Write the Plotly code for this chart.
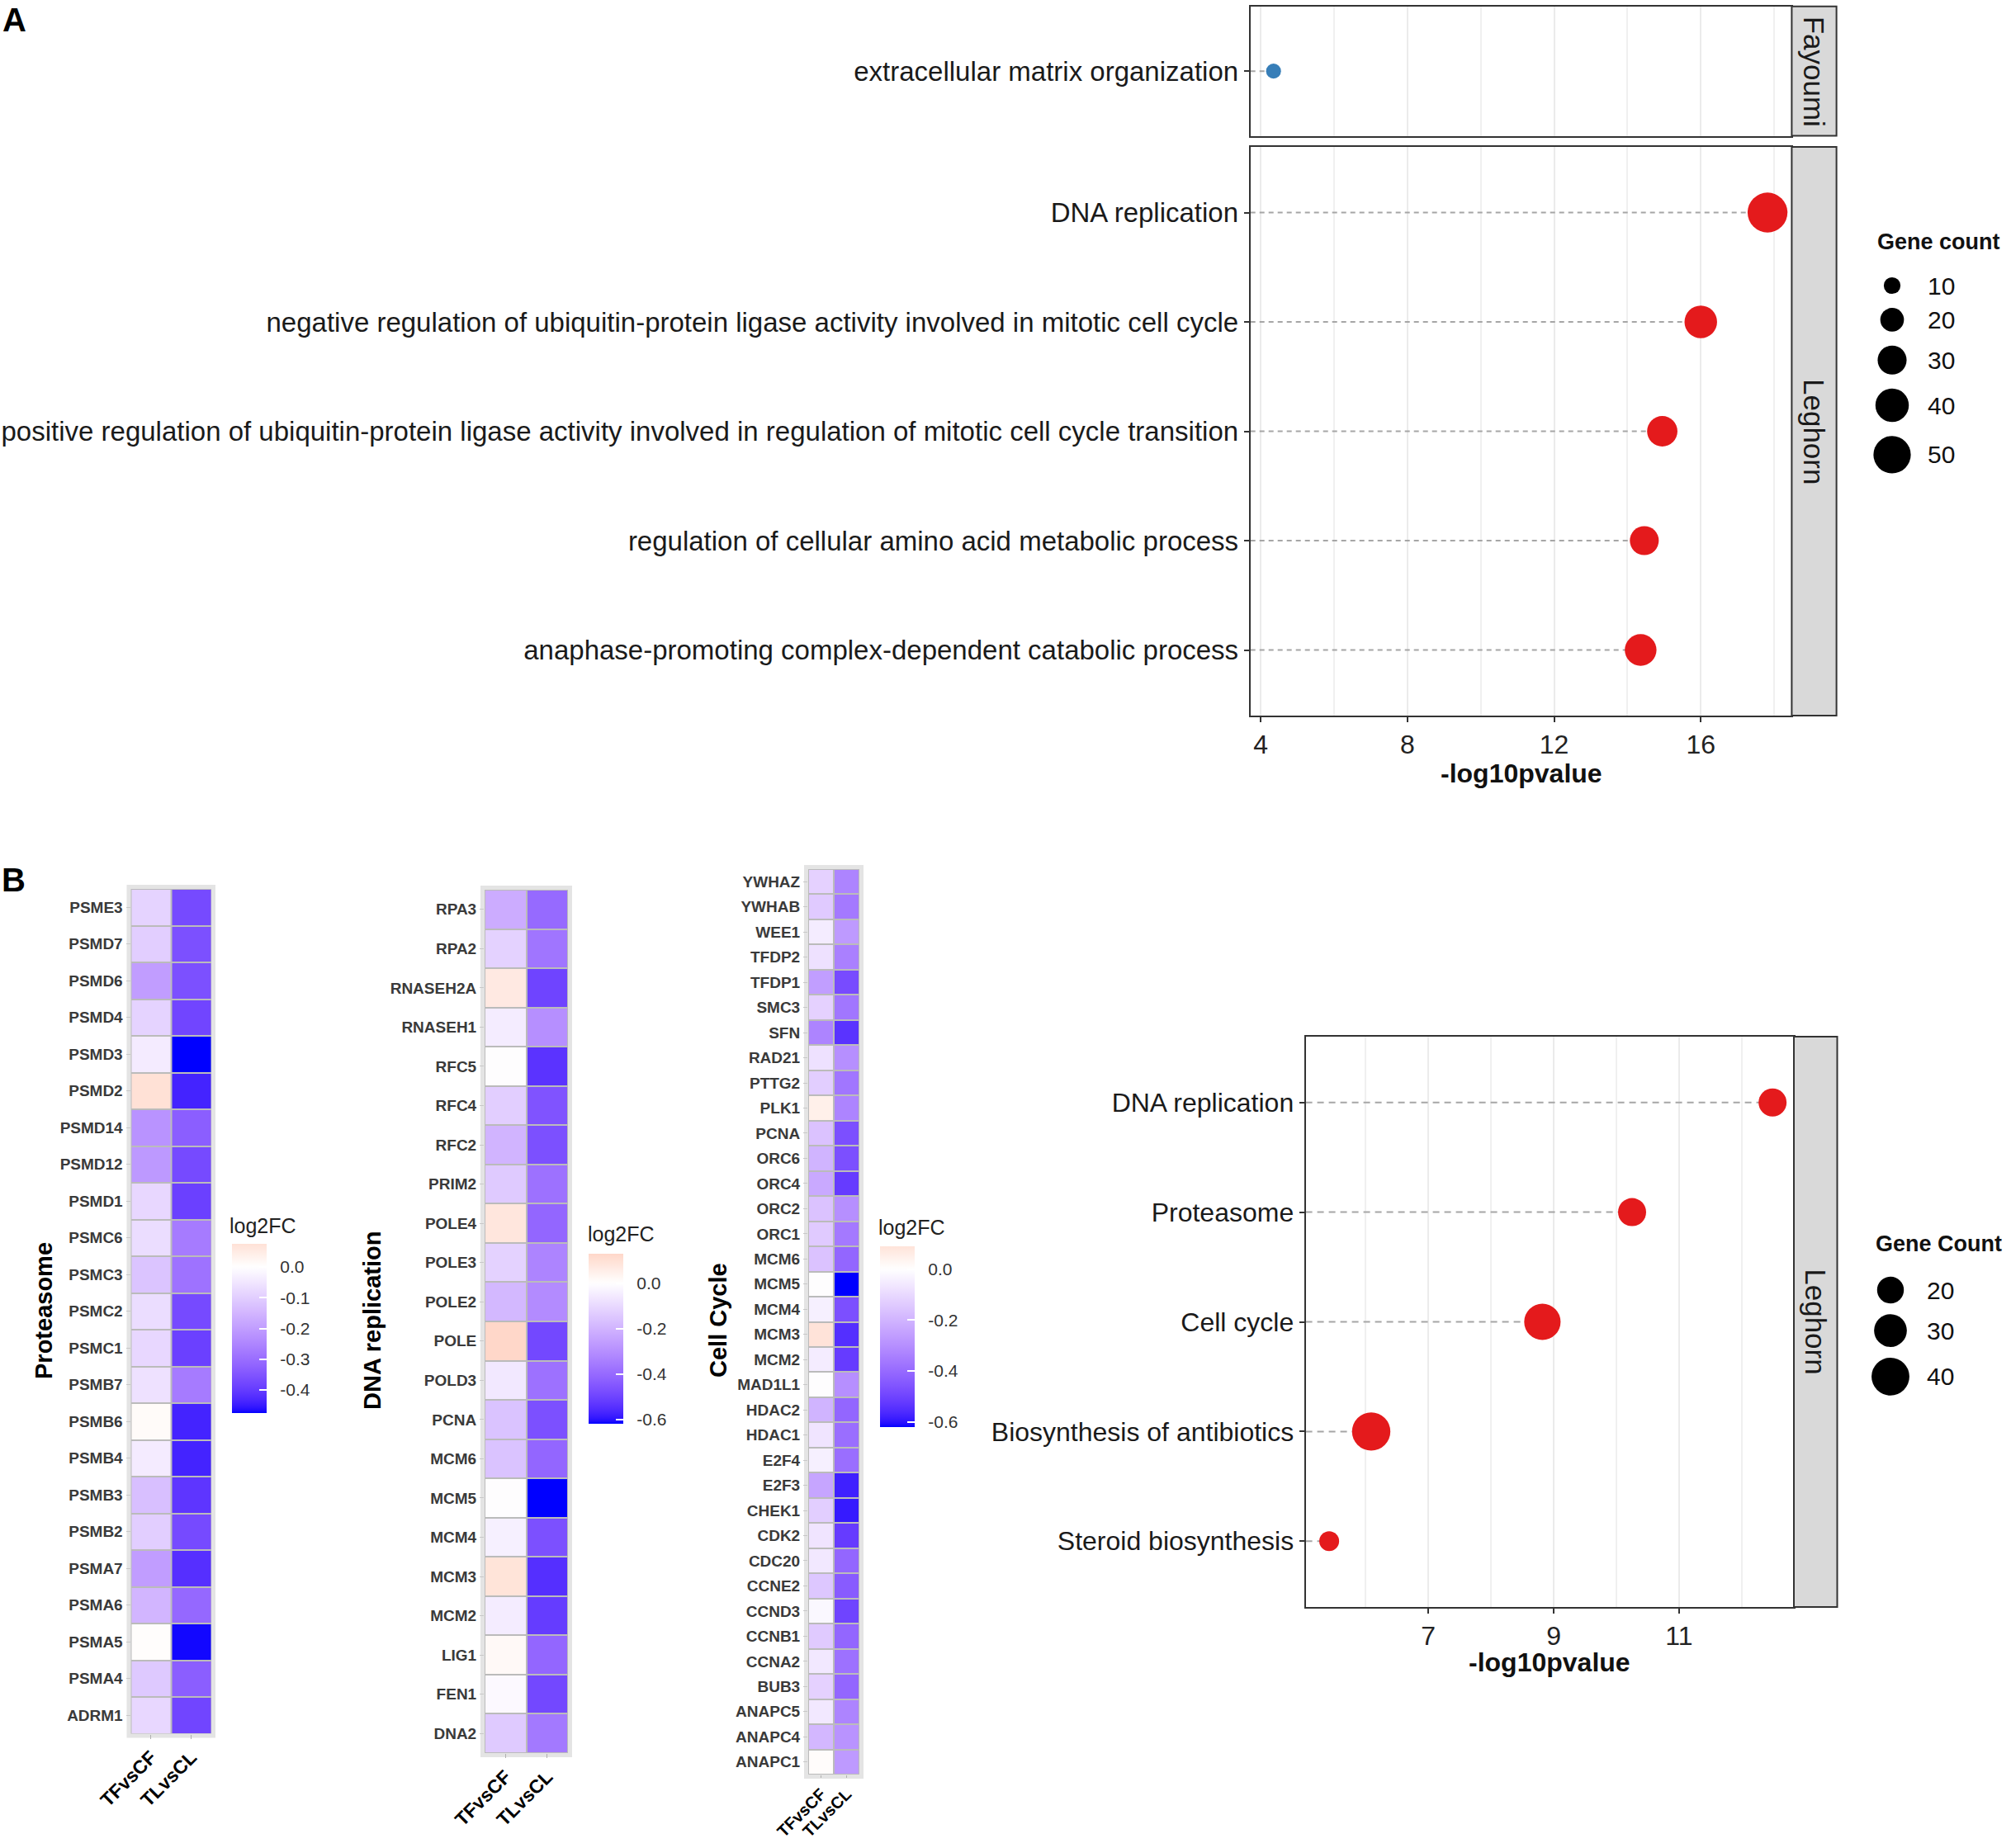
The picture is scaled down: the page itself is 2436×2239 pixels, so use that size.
import numpy as np
import plotly.graph_objects as go

W, H = 2436, 2239
FONT = "Liberation Sans, Arial, Helvetica, sans-serif"

# ------------------------------------------------------------------ data
# Panel A (GO terms)
a_fay_terms = ["extracellular matrix organization"]
a_fay_logp = [4.35]
a_fay_count = [8]

a_leg_terms = [
    "DNA replication",
    "negative regulation of ubiquitin-protein ligase activity involved in mitotic cell cycle",
    "positive regulation of ubiquitin-protein ligase activity involved in regulation of mitotic cell cycle transition",
    "regulation of cellular amino acid metabolic process",
    "anaphase-promoting complex-dependent catabolic process",
]
a_leg_logp = [17.82, 16.0, 14.95, 14.46, 14.36]
a_leg_count = [57, 38, 33, 30, 36]
a_xticks = [4, 8, 12, 16]
a_xminor = [6, 10, 14, 18]
a_legend_counts = [10, 20, 30, 40, 50]

# Panel B (KEGG)
b_terms = ["DNA replication", "Proteasome", "Cell cycle",
           "Biosynthesis of antibiotics", "Steroid biosynthesis"]
b_logp = [12.49, 10.25, 8.82, 6.09, 5.42]
b_count = [22, 22, 37, 41, 11]
b_xticks = [7, 9, 11]
b_xminor = [6, 8, 10, 12]
b_legend_counts = [20, 30, 40]

comparisons = ["TFvsCF", "TLvsCL"]

# Heatmap 1: Proteasome (top -> bottom)
prot_genes = ["PSME3", "PSMD7", "PSMD6", "PSMD4", "PSMD3", "PSMD2", "PSMD14", "PSMD12",
              "PSMD1", "PSMC6", "PSMC3", "PSMC2", "PSMC1", "PSMB7", "PSMB6", "PSMB4",
              "PSMB3", "PSMB2", "PSMA7", "PSMA6", "PSMA5", "PSMA4", "ADRM1"]
prot_tf = [-0.09, -0.10, -0.20, -0.09, -0.04, 0.075, -0.22, -0.21, -0.08, -0.07, -0.12,
           -0.07, -0.08, -0.06, 0.01, -0.04, -0.13, -0.10, -0.20, -0.15, 0.005, -0.11, -0.08]
prot_tl = [-0.37, -0.36, -0.36, -0.38, -0.475, -0.44, -0.33, -0.37, -0.39, -0.27, -0.29,
           -0.37, -0.39, -0.27, -0.44, -0.44, -0.41, -0.37, -0.42, -0.31, -0.47, -0.33, -0.38]
prot_ticks = [0.0, -0.1, -0.2, -0.3, -0.4]
prot_ticktext = ["0.0", "-0.1", "-0.2", "-0.3", "-0.4"]

# Heatmap 2: DNA replication
dna_genes = ["RPA3", "RPA2", "RNASEH2A", "RNASEH1", "RFC5", "RFC4", "RFC2", "PRIM2",
             "POLE4", "POLE3", "POLE2", "POLE", "POLD3", "PCNA", "MCM6", "MCM5", "MCM4",
             "MCM3", "MCM2", "LIG1", "FEN1", "DNA2"]
dna_tf = [-0.22, -0.12, 0.07, -0.05, 0.0, -0.13, -0.20, -0.14, 0.08, -0.12, -0.19, 0.13,
          -0.06, -0.16, -0.16, 0.0, -0.04, 0.09, -0.05, 0.02, -0.015, -0.14]
dna_tl = [-0.40, -0.37, -0.50, -0.30, -0.54, -0.46, -0.47, -0.38, -0.41, -0.33, -0.31,
          -0.49, -0.38, -0.47, -0.41, -0.62, -0.47, -0.55, -0.52, -0.41, -0.49, -0.36]
dna_ticks = [0.0, -0.2, -0.4, -0.6]
dna_ticktext = ["0.0", "-0.2", "-0.4", "-0.6"]

# Heatmap 3: Cell Cycle
cc_genes = ["YWHAZ", "YWHAB", "WEE1", "TFDP2", "TFDP1", "SMC3", "SFN", "RAD21", "PTTG2",
            "PLK1", "PCNA", "ORC6", "ORC4", "ORC2", "ORC1", "MCM6", "MCM5", "MCM4", "MCM3",
            "MCM2", "MAD1L1", "HDAC2", "HDAC1", "E2F4", "E2F3", "CHEK1", "CDK2", "CDC20",
            "CCNE2", "CCND3", "CCNB1", "CCNA2", "BUB3", "ANAPC5", "ANAPC4", "ANAPC1"]
cc_tf = [-0.12, -0.14, -0.05, -0.08, -0.26, -0.12, -0.33, -0.08, -0.13, 0.05, -0.16,
         -0.20, -0.23, -0.16, -0.14, -0.16, 0.0, -0.04, 0.09, -0.05, 0.0, -0.20, -0.07,
         -0.04, -0.24, -0.13, -0.07, -0.06, -0.15, -0.02, -0.14, -0.06, -0.12, -0.06,
         -0.19, 0.01]
cc_tl = [-0.33, -0.36, -0.27, -0.34, -0.48, -0.37, -0.54, -0.30, -0.37, -0.33, -0.47,
         -0.47, -0.52, -0.30, -0.36, -0.41, -0.62, -0.47, -0.55, -0.52, -0.30, -0.41,
         -0.39, -0.39, -0.58, -0.59, -0.52, -0.41, -0.44, -0.50, -0.41, -0.38, -0.41,
         -0.33, -0.29, -0.27]
cc_ticks = [0.0, -0.2, -0.4, -0.6]
cc_ticktext = ["0.0", "-0.2", "-0.4", "-0.6"]


# ------------------------------------------------------------------ helpers
def px_x(p):
    return p / W


def px_y(p):
    return 1 - p / H


_M = np.array([[0.4124564, 0.3575761, 0.1804375],
               [0.2126729, 0.7151522, 0.0721750],
               [0.0193339, 0.1191920, 0.9503041]])
_WP = np.array([0.95047, 1.0, 1.08883])


def rgb2lab(rgb):
    c = np.array(rgb, float) / 255.0
    lin = np.where(c <= 0.04045, c / 12.92, ((c + 0.055) / 1.055) ** 2.4)
    t = (_M @ lin) / _WP
    d = 6 / 29
    f = np.where(t > d ** 3, np.cbrt(t), t / (3 * d * d) + 4 / 29)
    return np.array([116 * f[1] - 16, 500 * (f[0] - f[1]), 200 * (f[1] - f[2])])


def lab2rgb(lab):
    L, a, b = lab
    fy = (L + 16) / 116
    f = np.array([fy + a / 500, fy, fy - b / 200])
    d = 6 / 29
    t = np.where(f > d, f ** 3, 3 * d * d * (f - 4 / 29))
    lin = np.linalg.inv(_M) @ (t * _WP)
    lin = np.clip(lin, 0, 1)
    c = np.where(lin <= 0.0031308, 12.92 * lin, 1.055 * lin ** (1 / 2.4) - 0.055)
    c = np.round(np.clip(c, 0, 1) * 255).astype(int)
    return "rgb(%d,%d,%d)" % tuple(c)


LAB_LOW = rgb2lab((0, 0, 255))
LAB_MID = rgb2lab((255, 255, 255))
LAB_HIGH = rgb2lab((255, 0, 0))


def div_scale(zmin, zmax, n=61):
    m = max(abs(zmin), abs(zmax))
    scale = []
    for p in np.linspace(0, 1, n):
        v = zmin + p * (zmax - zmin)
        f = v / m
        if f < 0:
            lab = LAB_MID + (LAB_LOW - LAB_MID) * (-f)
        else:
            lab = LAB_MID + (LAB_HIGH - LAB_MID) * f
        scale.append([float(p), lab2rgb(lab)])
    return scale


fig = go.Figure()
fig.update_layout(template="none")

AX_LINE = dict(showline=True, mirror=True, linecolor="#333333", linewidth=2, zeroline=False,
               automargin=False)
GRID = dict(showgrid=True, gridcolor="#EBEBEB", gridwidth=2)
shapes = []
annotations = []


def note(text, x, y, size, color="#111111", xanchor="center", yanchor="middle", angle=0,
         xref="paper", yref="paper"):
    if xref == "paper":
        x, y = px_x(x), px_y(y)
    annotations.append(dict(text=text, xref=xref, yref=yref, x=x, y=y, xanchor=xanchor,
                            yanchor=yanchor, textangle=angle, showarrow=False,
                            font=dict(size=size, color=color, family=FONT)))


# ------------------------------------------------------------------ Panel A
SREF_A = 2 / 6.4 ** 2
A_XR = [3.72, 18.48]


def seg_xy(vals, cats, x0):
    xs, ys = [], []
    for v, c in zip(vals, cats):
        xs += [x0, v, None]
        ys += [c, c, None]
    return xs, ys


sx, sy = seg_xy(a_fay_logp, a_fay_terms, A_XR[0])
fig.add_trace(go.Scatter(x=sx, y=sy, mode="lines", xaxis="x", yaxis="y",
                         line=dict(color="#A6A6A6", width=2, dash="6px,5px"), hoverinfo="skip"))
fig.add_trace(go.Scatter(x=a_fay_logp, y=a_fay_terms, mode="markers", xaxis="x", yaxis="y",
                         marker=dict(color="#377EB8", size=a_fay_count, sizemode="area",
                                     sizeref=SREF_A, opacity=1, line=dict(width=0))))
sx, sy = seg_xy(a_leg_logp, a_leg_terms, A_XR[0])
fig.add_trace(go.Scatter(x=sx, y=sy, mode="lines", xaxis="x2", yaxis="y2",
                         line=dict(color="#A6A6A6", width=2, dash="6px,5px"), hoverinfo="skip"))
fig.add_trace(go.Scatter(x=a_leg_logp, y=a_leg_terms, mode="markers", xaxis="x2", yaxis="y2",
                         marker=dict(color="#E41A1C", size=a_leg_count, sizemode="area",
                                     sizeref=SREF_A, opacity=1, line=dict(width=0))))

A_X0, A_X1 = 1514.7, 2170.4
fig.update_layout(
    xaxis=dict(domain=[px_x(A_X0), px_x(A_X1)], range=A_XR, anchor="y", tickvals=a_xticks,
               showticklabels=False, ticks="", **GRID,
               minor=dict(tickvals=a_xminor, showgrid=True, gridcolor="#F0F0F0", gridwidth=1.5),
               **AX_LINE),
    yaxis=dict(domain=[px_y(164.5), px_y(7.8)], anchor="x", type="category",
               categoryorder="array", categoryarray=a_fay_terms[::-1],
               range=[-0.6, len(a_fay_terms) - 0.4], showgrid=False, ticks="outside",
               ticklen=6, tickwidth=2, tickcolor="#333333",
               tickfont=dict(size=33, color="#1A1A1A", family=FONT), **AX_LINE),
    xaxis2=dict(domain=[px_x(A_X0), px_x(A_X1)], range=A_XR, anchor="y2", tickvals=a_xticks,
                ticks="outside", ticklen=6, tickwidth=2, tickcolor="#333333",
                tickfont=dict(size=32, color="#222222", family=FONT), **GRID,
                minor=dict(tickvals=a_xminor, showgrid=True, gridcolor="#F0F0F0", gridwidth=1.5),
                **AX_LINE),
    yaxis2=dict(domain=[px_y(867), px_y(178)], anchor="x2", type="category",
                categoryorder="array", categoryarray=a_leg_terms[::-1],
                range=[-0.6, len(a_leg_terms) - 0.4], showgrid=False, ticks="outside",
                ticklen=6, tickwidth=2, tickcolor="#333333",
                tickfont=dict(size=33, color="#1A1A1A", family=FONT), **AX_LINE),
)


def strip(x0, x1, y0, y1, label):
    shapes.append(dict(type="rect", xref="paper", yref="paper", x0=px_x(x0), x1=px_x(x1),
                       y0=px_y(y1), y1=px_y(y0), fillcolor="#D9D9D9",
                       line=dict(color="#333333", width=2), layer="above"))
    note(label, (x0 + x1) / 2, (y0 + y1) / 2, 35, color="#1A1A1A", angle=90)


strip(A_X1, 2224.6, 7.8, 164.5, "Fayoumi")
strip(A_X1, 2224.6, 178, 867, "Leghorn")

note("<b>-log10pvalue</b>", (A_X0 + A_X1) / 2, 937, 32)
note("<b>A</b>", 17, 24, 40, color="#000000")
note("<b>B</b>", 16, 1066, 40, color="#000000")


# size legends (drawn on an overlay axis in pixel units)
def size_legend(counts, k, sref, x_dot, y_first, gap, x_text, title, y_title):
    d = [k * np.sqrt(c) for c in counts]
    ys = [y_first]
    for i in range(1, len(counts)):
        ys.append(ys[-1] + (d[i - 1] + d[i]) / 2 + gap)
    fig.add_trace(go.Scatter(x=[x_dot] * len(counts), y=ys, mode="markers", xaxis="x3",
                             yaxis="y3", marker=dict(color="#000000", size=counts,
                                                     sizemode="area", sizeref=sref,
                                                     opacity=1, line=dict(width=0)),
                             hoverinfo="skip"))
    for c, yv in zip(counts, ys):
        note(str(c), x_text, yv, 30, xanchor="left", xref="x3", yref="y3")
    note("<b>%s</b>" % title, x_dot - 20, y_title, 27, xanchor="left", xref="x3", yref="y3")


size_legend(a_legend_counts, 6.4, SREF_A, 2292, 346, 17, 2333, "Gene count", 293)

# ------------------------------------------------------------------ Panel B dot plot
SREF_B = 2 / 7.25 ** 2
B_XR = [5.045, 12.83]
B_X0, B_X1 = 1581.6, 2173.0
sx, sy = seg_xy(b_logp, b_terms, B_XR[0])
fig.add_trace(go.Scatter(x=sx, y=sy, mode="lines", xaxis="x7", yaxis="y7",
                         line=dict(color="#A6A6A6", width=2, dash="8px,6px"), hoverinfo="skip"))
fig.add_trace(go.Scatter(x=b_logp, y=b_terms, mode="markers", xaxis="x7", yaxis="y7",
                         marker=dict(color="#E41A1C", size=b_count, sizemode="area",
                                     sizeref=SREF_B, opacity=1, line=dict(width=0))))
fig.update_layout(
    xaxis7=dict(domain=[px_x(B_X0), px_x(B_X1)], range=B_XR, anchor="y7", tickvals=b_xticks,
                ticks="outside", ticklen=6, tickwidth=2, tickcolor="#333333",
                tickfont=dict(size=32, color="#222222", family=FONT), **GRID,
                minor=dict(tickvals=b_xminor, showgrid=True, gridcolor="#F0F0F0", gridwidth=1.5),
                **AX_LINE),
    yaxis7=dict(domain=[px_y(1947), px_y(1256)], anchor="x7", type="category",
                categoryorder="array", categoryarray=b_terms[::-1],
                range=[-0.6, len(b_terms) - 0.4], showgrid=False, ticks="outside",
                ticklen=6, tickwidth=2, tickcolor="#333333",
                tickfont=dict(size=32, color="#1A1A1A", family=FONT), **AX_LINE),
)
strip(B_X1, 2225.5, 1256, 1947, "Leghorn")
note("<b>-log10pvalue</b>", (B_X0 + B_X1) / 2, 2014, 32)
size_legend(b_legend_counts, 7.25, SREF_B, 2290, 1563, 13, 2332, "Gene Count", 1507)

fig.update_layout(
    xaxis3=dict(domain=[0, 1], range=[0, W], visible=False, anchor="y3", automargin=False),
    yaxis3=dict(domain=[0, 1], range=[H, 0], visible=False, anchor="x3", automargin=False),
)


# ------------------------------------------------------------------ Panel B heatmaps
def heatmap(idx, genes, tf, tl, ticks, ticktext, cell_box, cb_box, title, title_xy,
            lab_xy, xfont=23, xticklen=5):
    x0, x1, y0, y1 = cell_box
    z = [[a, b] for a, b in zip(tf, tl)]
    zmin = min(min(tf), min(tl))
    zmax = max(max(tf), max(tl))
    cbx, cby0, cby1 = cb_box
    # frame and grid colour behind the tiles
    shapes.append(dict(type="rect", xref="paper", yref="paper", x0=px_x(x0 - 5),
                       x1=px_x(x1 + 5), y0=px_y(y1 + 5), y1=px_y(y0 - 5),
                       fillcolor="#E4E4E4", line=dict(width=0), layer="below"))
    shapes.append(dict(type="rect", xref="paper", yref="paper", x0=px_x(x0), x1=px_x(x1),
                       y0=px_y(y1), y1=px_y(y0), fillcolor="#BBBBBB", line=dict(width=0),
                       layer="below"))
    fig.add_trace(go.Heatmap(
        z=z, x=comparisons, y=genes, xaxis="x%d" % idx, yaxis="y%d" % idx,
        zmin=zmin, zmax=zmax, colorscale=div_scale(zmin, zmax), xgap=2, ygap=2,
        colorbar=dict(x=px_x(cbx), xanchor="left", y=px_y(cby1), yanchor="bottom",
                      len=cby1 - cby0, lenmode="pixels", thickness=42,
                      thicknessmode="pixels", xpad=0, ypad=0, outlinewidth=0,
                      tickvals=ticks, ticktext=["\u00a0\u00a0" + t for t in ticktext],
                      ticks="inside", tickcolor="white", ticklen=9, tickwidth=2,
                      tickfont=dict(size=21, color="#333333", family=FONT))))
    n = len(genes)
    fig.layout["xaxis%d" % idx] = dict(
        domain=[px_x(x0), px_x(x1)], anchor="y%d" % idx, type="category",
        categoryorder="array", categoryarray=comparisons, range=[-0.5, 1.5],
        showgrid=False, zeroline=False, showline=False, ticks="outside", ticklen=xticklen,
        tickcolor="#B0B0B0", tickangle=-45, automargin=False,
        tickfont=dict(size=xfont, color="#000000", family=FONT, weight="bold"))
    fig.layout["yaxis%d" % idx] = dict(
        domain=[px_y(y1), px_y(y0)], anchor="x%d" % idx, type="category",
        categoryorder="array", categoryarray=genes, range=[n - 0.5, -0.5],
        showgrid=False, zeroline=False, showline=False, ticks="outside", ticklen=5,
        tickcolor="#C8C8C8", automargin=False,
        tickfont=dict(size=19, color="#3A3A3A", family=FONT, weight="bold"))
    note("<b>%s</b>" % title, title_xy[0], title_xy[1], 29, color="#000000", angle=-90)
    note("log2FC", lab_xy[0], lab_xy[1], 25, color="#222222", xanchor="left")


heatmap(4, prot_genes, prot_tf, prot_tl, prot_ticks, prot_ticktext,
        (158.5, 256.0, 1077.0, 2100.5), (281, 1507, 1712), "Proteasome", (53, 1588),
        (276, 1485))
heatmap(5, dna_genes, dna_tf, dna_tl, dna_ticks, dna_ticktext,
        (587.0, 688.0, 1078.0, 2124.0), (713, 1519, 1725), "DNA replication", (451, 1600),
        (710, 1495))
heatmap(6, cc_genes, cc_tf, cc_tl, cc_ticks, cc_ticktext,
        (979.0, 1041.0, 1053.0, 2150.0), (1066, 1510, 1729), "Cell Cycle", (870, 1600),
        (1062, 1487), xfont=20, xticklen=3)

fig.update_layout(
    width=W, height=H, margin=dict(l=0, r=0, t=0, b=0, pad=0),
    paper_bgcolor="white", plot_bgcolor="rgba(0,0,0,0)", showlegend=False,
    font=dict(family=FONT, color="#222222"),
    shapes=shapes, annotations=annotations,
)

fig.write_html("out.html", config={"displayModeBar": False},
               post_script="document.body.style.margin='0px';")
